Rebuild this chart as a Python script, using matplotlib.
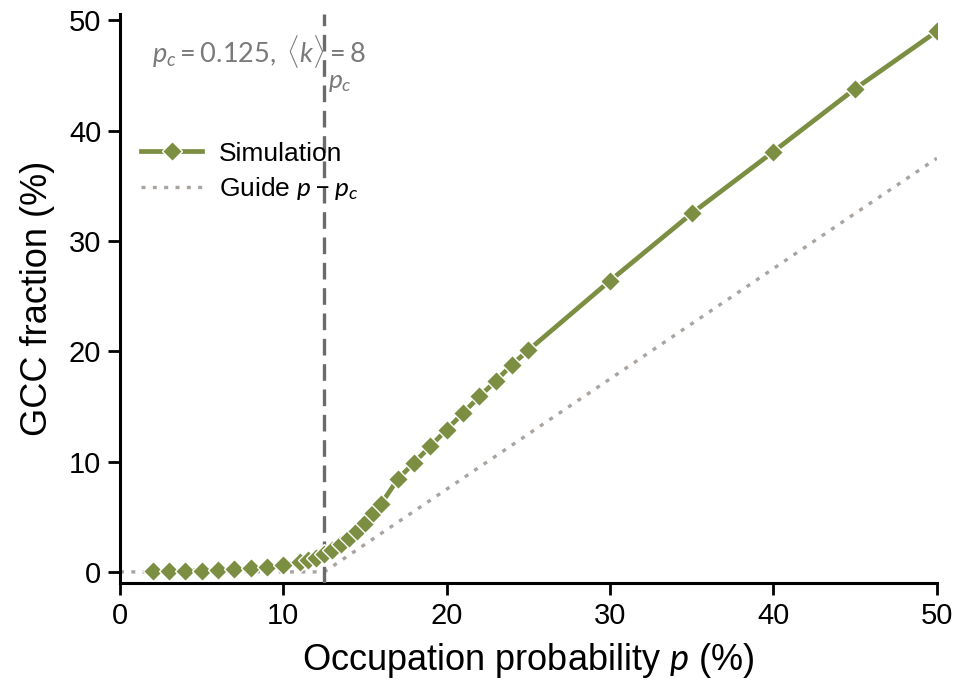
import matplotlib
matplotlib.use("Agg")
import matplotlib.pyplot as plt

# ---- data ----
p_sim = [2, 3, 4, 5, 6, 7, 8, 9, 10, 11, 11.5, 12, 12.5, 13, 13.5, 14, 14.5,
         15, 15.5, 16, 17, 18, 19, 20, 21, 22, 23, 24, 25, 30, 35, 40, 45, 50]
gcc_sim = [0.05, 0.08, 0.1, 0.12, 0.18, 0.25, 0.32, 0.45, 0.6, 0.9, 1.05, 1.3,
           1.6, 2.0, 2.5, 3.1, 3.7, 4.4, 5.3, 6.2, 8.4, 9.9, 11.4, 12.9, 14.4,
           15.9, 17.3, 18.8, 20.1, 26.4, 32.5, 38.1, 43.8, 49.0]
p_guide = [0, 12.5, 50]
gcc_guide = [0, 0, 37.5]
p_c = 12.5
x_ticks = [0, 10, 20, 30, 40, 50]
y_ticks = [0, 10, 20, 30, 40, 50]

GREEN = "#7b8e42"
GUIDE = "#a9a4a0"
VLINE = "#6b6b6b"

plt.rcParams['font.family'] = ['Liberation Sans', 'DejaVu Sans']
plt.rcParams['mathtext.fontset'] = 'custom'
plt.rcParams['mathtext.rm'] = 'Lato'
plt.rcParams['mathtext.it'] = 'Lato:italic'

fig = plt.figure(figsize=(9.56, 6.85), dpi=100)
ax = fig.add_axes([0.1255, 0.149, 0.8545, 0.831])

ax.plot(p_guide, gcc_guide, color=GUIDE, lw=2.4, linestyle=(0, (1.2, 2.2)),
        label=r"Guide $p-p_c$", zorder=2)
ax.axvline(p_c, color=VLINE, lw=2.4, linestyle=(0, (5, 2.6)), zorder=3)
ax.plot(p_sim, gcc_sim, color=GREEN, lw=3.4, marker='D', ms=10.5,
        markeredgecolor='white', markeredgewidth=1.0, label="Simulation",
        zorder=4)

ax.text(1.95, 46.2, r"$p_c = 0.125,\ \langle k\rangle = 8$", color="#7a7a7a",
        fontsize=19.5, ha='left', va='baseline')
ax.text(12.75, 43.9, r"$p_c$", color="#7a7a7a", fontsize=19, ha='left',
        va='baseline')

ax.set_xlim(0, 50)
ax.set_ylim(-1.0, 50.6)
ax.set_xticks(x_ticks)
ax.set_yticks(y_ticks)
ax.tick_params(labelsize=21, width=2, length=8.5, direction='out', pad=5)
for s in ['top', 'right']:
    ax.spines[s].set_visible(False)
for s in ['left', 'bottom']:
    ax.spines[s].set_linewidth(2.2)

ax.set_xlabel(r"Occupation probability $p$ (%)", fontsize=26, labelpad=8)
ax.set_ylabel("GCC fraction (%)", fontsize=26, labelpad=10)

handles, labels = ax.get_legend_handles_labels()
ax.legend([handles[1], handles[0]], [labels[1], labels[0]], loc='upper left',
          bbox_to_anchor=(-0.003, 0.817), frameon=False, fontsize=19,
          handlelength=2.3, handletextpad=0.65, labelspacing=0.35)

fig.savefig("out.png", dpi=100)
